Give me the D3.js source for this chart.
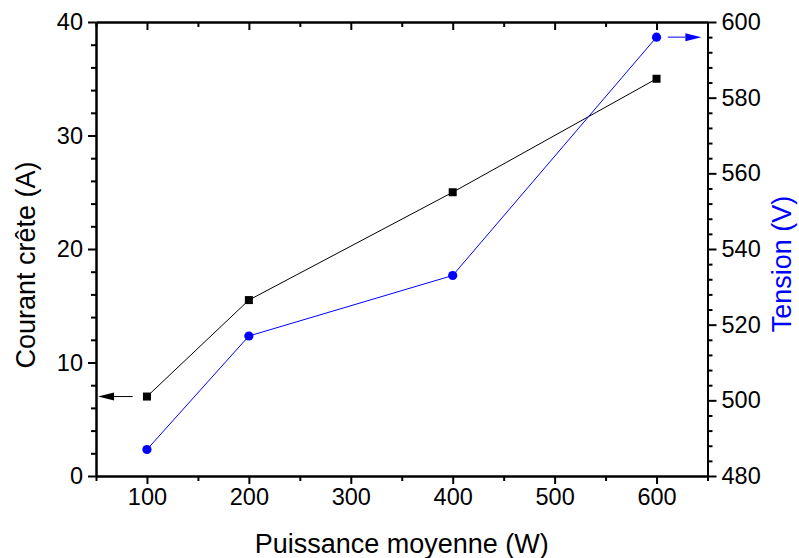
<!DOCTYPE html>
<html>
<head>
<meta charset="utf-8">
<script src="https://cdn.jsdelivr.net/npm/d3@7"></script>
<style>
  html, body { margin: 0; padding: 0; background: #fff; }
  svg { display: block; font-family: "Liberation Sans", Arial, sans-serif; }
</style>
</head>
<body>
<svg id="chart" width="799" height="558"></svg>
<script>
// ---- data ----
const puissance = [100, 200, 400, 600];              // W
const courant = [7, 15.5, 25, 35];                   // A (left axis)
const tension = [487, 517, 533, 596];                // V (right axis)
const xTicks = [100, 200, 300, 400, 500, 600];
const xMinor = [50, 150, 250, 350, 450, 550, 650];
const yLeftTicks = [0, 10, 20, 30, 40];
const yLeftMinor = [2, 4, 6, 8, 12, 14, 16, 18, 22, 24, 26, 28, 32, 34, 36, 38];
const yRightTicks = [480, 500, 520, 540, 560, 580, 600];
const yRightMinor = [484, 488, 492, 496, 504, 508, 512, 516, 524, 528, 532, 536, 544, 548, 552, 556, 564, 568, 572, 576, 584, 588, 592, 596];
// arrow annotations (data units): [series value, x start, x tip]
const arrowLeft = [7, 86, 52];
const arrowRight = [596, 611, 644];

const svg = d3.select("#chart");
const L = 96, R = 707.5, T = 22, B = 476;
const x = d3.scaleLinear().domain([50, 650]).range([L, R]);
const yL = d3.scaleLinear().domain([0, 40]).range([B, T]);
const yR = d3.scaleLinear().domain([480, 600]).range([B, T]);

const fs = "23.5px";
function styleAxis(g) {
  g.selectAll("path.domain").attr("stroke", "#000").attr("stroke-width", 2);
  g.selectAll(".tick line").attr("stroke", "#000").attr("stroke-width", 2);
  g.selectAll(".tick text").attr("fill", "#000").style("font-size", fs)
    .style("font-family", '"Liberation Sans", Arial, sans-serif');
}

// minor ticks
svg.append("g").attr("transform", `translate(0,${B})`)
  .call(d3.axisBottom(x).tickValues(xMinor).tickSize(5).tickSizeOuter(0).tickFormat(""))
  .call(styleAxis);
svg.append("g").attr("transform", `translate(0,${T})`)
  .call(d3.axisTop(x).tickValues(xMinor).tickSize(-5).tickSizeOuter(0).tickFormat(""))
  .call(styleAxis);
svg.append("g").attr("transform", `translate(${L},0)`)
  .call(d3.axisLeft(yL).tickValues(yLeftMinor).tickSize(5).tickSizeOuter(0).tickFormat(""))
  .call(styleAxis);
svg.append("g").attr("transform", `translate(${R},0)`)
  .call(d3.axisRight(yR).tickValues(yRightMinor).tickSize(5).tickSizeOuter(0).tickFormat(""))
  .call(styleAxis);

// major ticks
svg.append("g").attr("transform", `translate(0,${B})`)
  .call(d3.axisBottom(x).tickValues(xTicks).tickSize(8).tickSizeOuter(0).tickPadding(4).tickFormat(d3.format("d")))
  .call(styleAxis);
svg.append("g").attr("transform", `translate(0,${T})`)
  .call(d3.axisTop(x).tickValues(xTicks).tickSize(-8).tickSizeOuter(0).tickFormat(""))
  .call(styleAxis);
svg.append("g").attr("transform", `translate(${L},0)`)
  .call(d3.axisLeft(yL).tickValues(yLeftTicks).tickSize(8).tickSizeOuter(0).tickPadding(5).tickFormat(d3.format("d")))
  .call(styleAxis);
svg.append("g").attr("transform", `translate(${R},0)`)
  .call(d3.axisRight(yR).tickValues(yRightTicks).tickSize(9).tickSizeOuter(0).tickPadding(5).tickFormat(d3.format("d")))
  .call(styleAxis);

// series
const dataC = puissance.map((p, i) => [p, courant[i]]);
const dataT = puissance.map((p, i) => [p, tension[i]]);

svg.append("path").datum(dataC)
  .attr("fill", "none").attr("stroke", "#000").attr("stroke-width", 1)
  .attr("d", d3.line().x(d => x(d[0])).y(d => yL(d[1])));
svg.append("path").datum(dataT)
  .attr("fill", "none").attr("stroke", "#0000ff").attr("stroke-width", 1)
  .attr("d", d3.line().x(d => x(d[0])).y(d => yR(d[1])));

svg.selectAll("rect.sq").data(dataC).enter().append("rect")
  .attr("x", d => x(d[0]) - 4).attr("y", d => yL(d[1]) - 4)
  .attr("width", 8).attr("height", 8).attr("fill", "#000");
svg.selectAll("circle.ci").data(dataT).enter().append("circle")
  .attr("cx", d => x(d[0])).attr("cy", d => yR(d[1])).attr("r", 4.6)
  .attr("fill", "#0000ff");

// arrows
function arrow(yv, xs, xt, color) {
  const tip = x(xt), start = x(xs);
  const dir = Math.sign(start - tip); // +1 if tip on left
  const headLen = 16, headH = 4;
  svg.append("line").attr("x1", start).attr("x2", tip + dir * headLen)
    .attr("y1", yv).attr("y2", yv).attr("stroke", color).attr("stroke-width", 1);
  svg.append("path")
    .attr("d", `M${tip},${yv} L${tip + dir * headLen},${yv - headH} L${tip + dir * headLen},${yv + headH} Z`)
    .attr("fill", color);
}
arrow(yL(arrowLeft[0]), arrowLeft[1], arrowLeft[2], "#000");
arrow(yR(arrowRight[0]), arrowRight[1], arrowRight[2], "#0000ff");

// titles
svg.append("text").attr("x", (L + R) / 2).attr("y", 553)
  .attr("text-anchor", "middle").style("font-size", "27px").attr("fill", "#000")
  .text("Puissance moyenne (W)");
svg.append("text").attr("transform", "translate(35,265) rotate(-90)")
  .attr("text-anchor", "middle").style("font-size", "27px").attr("fill", "#000")
  .text("Courant crête (A)");
svg.append("text").attr("transform", "translate(791,264) rotate(-90)")
  .attr("text-anchor", "middle").style("font-size", "27px").attr("fill", "#0000ff")
  .text("Tension (V)");
</script>
</body>
</html>
